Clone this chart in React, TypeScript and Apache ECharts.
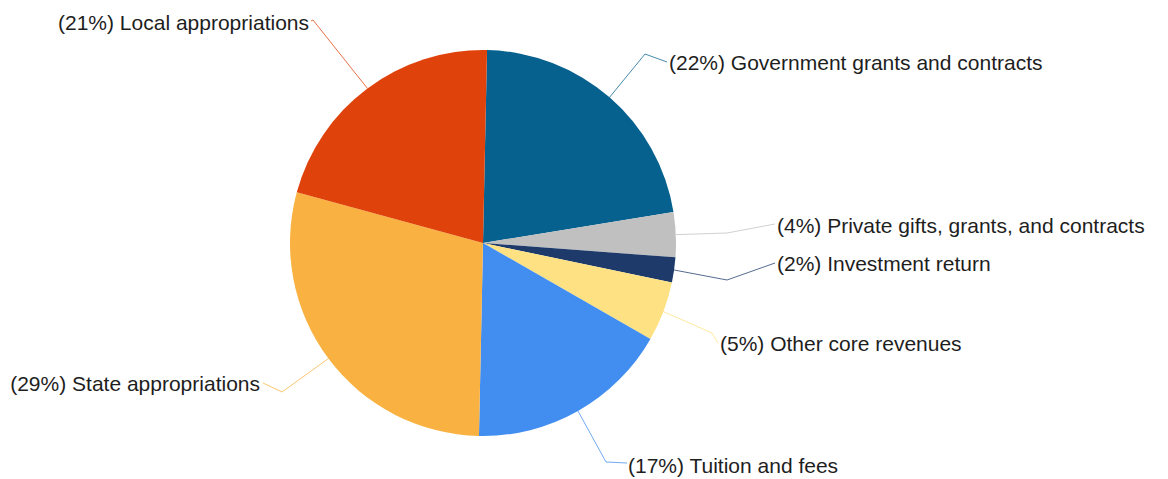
import React, { useEffect, useRef } from "react";
import * as echarts from "echarts";

const categories = [
  "Government grants and contracts",
  "Private gifts, grants, and contracts",
  "Investment return",
  "Other core revenues",
  "Tuition and fees",
  "State appropriations",
  "Local appropriations",
];
const values = [22.1, 3.75, 2.1, 5.0, 17.05, 28.9, 21.1];
const colors = ["#06618e", "#c0c0c0", "#1d3a6b", "#fde182", "#428ef0", "#f9b241", "#e0420b"];

// label layout (anchor x, y, align, elbow point, line end)
const labelX = [669, 777, 777, 720, 628, 260, 309];
const labelY = [62, 225, 263, 343, 465, 383, 22];
const labelAlign = ["left", "left", "left", "left", "left", "right", "right"];
const elbows = [[645, 54], [727, 233], [727, 280], [712, 333], [606, 462], [282, 392], [313, 20]];
const ends = [[667, 62], [775, 224], [775, 263], [718, 343], [627, 463], [263, 383], [311, 21]];

export default function App() {
  const ref = useRef<HTMLDivElement>(null);
  useEffect(() => {
    if (!ref.current) return;
    const chart = echarts.init(ref.current, null, { renderer: "svg" });
    chart.setOption({
      animation: false,
      backgroundColor: "#ffffff",
      series: [
        {
          type: "pie",
          center: [483, 243],
          radius: 193,
          startAngle: 88.8,
          clockwise: true,
          percentPrecision: 0,
          data: categories.map((c, i) => ({
            name: c,
            value: values[i],
            itemStyle: { color: colors[i] },
            labelLine: { lineStyle: { color: colors[i], width: 1, opacity: 0.75 } },
          })),
          itemStyle: { borderWidth: 0 },
          label: {
            show: true,
            formatter: "({d}%) {b}",
            fontFamily: "Liberation Sans, Arial, sans-serif",
            fontSize: 21,
            color: "#1e1e1e",
            overflow: "none",
          },
          labelLine: { show: true, length: 20, length2: 20, smooth: false },
          labelLayout: (params: any) => {
            const i = params.dataIndex;
            const start = params.labelLinePoints ? params.labelLinePoints[0] : ends[i];
            return {
              x: labelX[i],
              y: labelY[i],
              align: labelAlign[i],
              verticalAlign: "middle",
              hideOverlap: false,
              labelLinePoints: [start, elbows[i], ends[i]],
            };
          },
          emphasis: { disabled: true },
        },
      ],
    });
    return () => chart.dispose();
  }, []);
  return (
    <div
      ref={ref}
      style={{ position: "absolute", left: 0, top: 0, width: 1168, height: 479 }}
    />
  );
}
